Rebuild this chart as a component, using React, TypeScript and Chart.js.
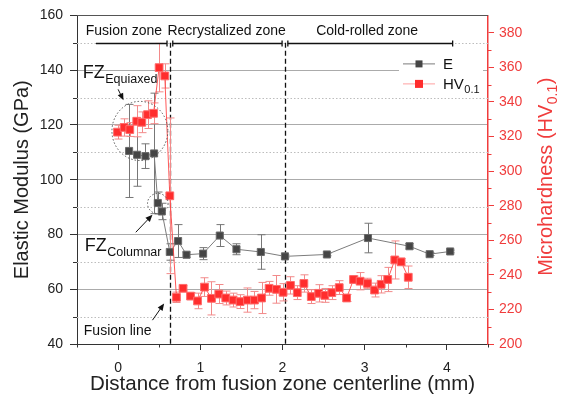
import React, { useEffect, useRef } from 'react';
import { Chart, registerables } from 'chart.js';

Chart.register(...registerables);

const FONT = '"Liberation Sans", Arial, Helvetica, sans-serif';

// ---- data: elastic modulus (GPa) ----
const E_X = [0.134, 0.231, 0.333, 0.438, 0.483, 0.532, 0.629, 0.73, 0.832, 1.034, 1.237, 1.44, 1.736, 2.03, 2.54, 3.04, 3.545, 3.79, 4.04];
const E_Y = [110.5, 109.1, 108.6, 109.6, 91.5, 88.4, 73.6, 77.6, 72.6, 73.0, 79.6, 74.6, 73.6, 72.0, 72.7, 78.7, 75.7, 72.8, 73.8];
const E_ERR = [17, 11.5, 4.5, 22, 4, 3, 3, 6, 1, 2.2, 4, 2, 6.3, 0.5, 0.5, 5.4, 1, 0.5, 0.5];

// ---- data: microhardness (HV0.1) ----
const HV_X = [-0.007, 0.073, 0.142, 0.227, 0.288, 0.358, 0.431, 0.499, 0.568, 0.629,
  0.71, 0.79, 0.881, 0.966, 1.051, 1.136, 1.225, 1.31, 1.399, 1.484, 1.574, 1.659,
  1.745, 1.837, 1.927, 2.007, 2.097, 2.18, 2.26, 2.35, 2.44, 2.515, 2.6, 2.69, 2.78, 2.864, 2.944, 3.034, 3.12, 3.2, 3.28, 3.366, 3.443, 3.53];
const HV_Y = [322.5, 325.2, 324.0, 328.8, 328.2, 332.6, 333.4, 359.8, 355.0, 285.7,
  227.0, 232.2, 227.7, 224.9, 232.9, 226.4, 228.9, 226.6, 225.4, 224.5, 225.4, 225.4,
  226.6, 232.2, 231.6, 229.9, 233.9, 229.7, 235.0, 227.4, 229.3, 228.1, 229.7, 232.6, 226.6, 237.3, 236.3, 235.0, 231.2, 234.5, 237.3, 248.6, 247.5, 238.6];
const HV_ERR = [4, 5, 4, 9, 6, 8, 6, 14, 7, 45,
  3, 1.5, 2, 4.5, 5.4, 9.6, 5.5, 4, 4, 4, 7, 5,
  9, 4, 8, 5, 5, 4, 5, 4, 5, 4, 4, 4, 2, 2, 5, 3, 4, 5, 7, 11, 2, 6.5];

// ---- axes ----
const X_MIN = -0.5, X_MAX = 4.5;
const X_TICKS = [0, 1, 2, 3, 4];
const X_MINOR = [-0.5, 0.5, 1.5, 2.5, 3.5, 4.5];
const E_MIN = 40, E_MAX = 160;
const E_TICKS = [40, 60, 80, 100, 120, 140, 160];
const E_MINOR = [50, 70, 90, 110, 130, 150];
const HV_MIN = 200, HV_MAX = 390;
const HV_TICKS = [200, 220, 240, 260, 280, 300, 320, 340, 360, 380];
const HV_MINOR = [210, 230, 250, 270, 290, 310, 330, 350, 370];

// ---- annotations (data units: x in mm, y in GPa) ----
const ZONE_LABELS = ['Fusion zone', 'Recrystalized zone', 'Cold-rolled zone'];
const ZONE_LABEL_X = [0.07, 1.32, 3.03];
const ZONE_LABEL_Y = 154.2;
const BOUNDARIES = [0.63, 2.03];
const BRACKET_START = -0.27, BRACKET_END = 4.07, BRACKET_Y = 150;
const EQ_CIRCLE = { x: 0.265, y: 117.8, rx: 0.34, ry: 10.8 };
const COL_CIRCLE = { x: 0.483, y: 91.3, rx: 0.125, ry: 3.7 };
const EQ_TEXT = { x: -0.43, y: 137.1 };
const COL_TEXT = { x: -0.405, y: 74.0 };
const FL_TEXT = { x: -0.417, y: 43.3 };
const EQ_ARROW = [0.0, 133.0, 0.066, 129.0];
const COL_ARROW = [0.215, 80.8, 0.418, 87.2];
const FL_ARROW = [0.418, 48.7, 0.56, 54.8];

const RED = '#f03c3c';
const RED_PT = '#ff2d2d';
const RED_LINE = 'rgba(255,60,60,0.85)';
const RED_ERR = '#f28a8a';
const GREY_PT = '#454545';
const GREY_LINE = '#7c7c7c';
const GREY_ERR = '#777777';

function drawErr(ctx: CanvasRenderingContext2D, xs: any, ys: any, X: number[], Y: number[], ERR: number[], color: string) {
  ctx.strokeStyle = color;
  ctx.lineWidth = 1;
  for (let i = 0; i < X.length; i++) {
    const px = Math.round(xs.getPixelForValue(X[i])) + 0.5;
    const t = ys.getPixelForValue(Y[i] + ERR[i]);
    const b = ys.getPixelForValue(Y[i] - ERR[i]);
    ctx.beginPath();
    ctx.moveTo(px, t); ctx.lineTo(px, b);
    ctx.moveTo(px - 4, t); ctx.lineTo(px + 4, t);
    ctx.moveTo(px - 4, b); ctx.lineTo(px + 4, b);
    ctx.stroke();
  }
}

function arrow(ctx: CanvasRenderingContext2D, x0: number, y0: number, x1: number, y1: number) {
  const ang = Math.atan2(y1 - y0, x1 - x0);
  const L = 7, W = 3;
  ctx.beginPath();
  ctx.moveTo(x0, y0);
  ctx.lineTo(x1 - Math.cos(ang) * L * 0.8, y1 - Math.sin(ang) * L * 0.8);
  ctx.stroke();
  ctx.beginPath();
  ctx.moveTo(x1, y1);
  ctx.lineTo(x1 - Math.cos(ang) * L - Math.sin(ang) * W, y1 - Math.sin(ang) * L + Math.cos(ang) * W);
  ctx.lineTo(x1 - Math.cos(ang) * L + Math.sin(ang) * W, y1 - Math.sin(ang) * L - Math.cos(ang) * W);
  ctx.closePath();
  ctx.fill();
}

function subText(ctx: CanvasRenderingContext2D, x: number, y: number, main: string, sub: string, ms: number, ss: number, drop: number) {
  ctx.font = `${ms}px ${FONT}`;
  ctx.fillText(main, x, y);
  const w = ctx.measureText(main).width;
  ctx.font = `${ss}px ${FONT}`;
  ctx.fillText(sub, x + w + 0.5, y + drop);
}

const annotPlugin = {
  id: 'annot',
  beforeDatasetsDraw(chart: any) {
    const { ctx, chartArea: a, scales } = chart;
    const xs = scales.x, ys = scales.y, y1 = scales.y1;
    ctx.save();
    // dotted minor gridlines
    ctx.strokeStyle = '#bdbdbd';
    ctx.lineWidth = 1;
    ctx.setLineDash([1.5, 2]);
    E_MINOR.forEach((v) => {
      const py = Math.round(ys.getPixelForValue(v)) + 0.5;
      ctx.beginPath(); ctx.moveTo(a.left, py); ctx.lineTo(a.right, py); ctx.stroke();
    });
    // zone boundaries
    ctx.strokeStyle = '#111';
    ctx.lineWidth = 1.3;
    ctx.setLineDash([5, 3]);
    BOUNDARIES.forEach((v) => {
      const px = Math.round(xs.getPixelForValue(v)) + 0.5;
      ctx.beginPath(); ctx.moveTo(px, ys.getPixelForValue(BRACKET_Y)); ctx.lineTo(px, a.bottom); ctx.stroke();
    });
    ctx.setLineDash([]);
    drawErr(ctx, xs, ys, E_X, E_Y, E_ERR, GREY_ERR);
    drawErr(ctx, xs, y1, HV_X, HV_Y, HV_ERR, RED_ERR);
    ctx.restore();
  },
  afterDraw(chart: any) {
    const { ctx, chartArea: a, scales } = chart;
    const xs = scales.x, ys = scales.y;
    const X = (v: number) => xs.getPixelForValue(v);
    const Y = (v: number) => ys.getPixelForValue(v);
    ctx.save();
    // top border
    ctx.strokeStyle = '#555';
    ctx.lineWidth = 1;
    ctx.beginPath(); ctx.moveTo(a.left, Math.round(a.top) + 0.5); ctx.lineTo(a.right, Math.round(a.top) + 0.5); ctx.stroke();
    // minor ticks
    ctx.strokeStyle = '#333';
    E_MINOR.forEach((v) => {
      const py = Math.round(Y(v)) + 0.5;
      ctx.beginPath(); ctx.moveTo(a.left - 4, py); ctx.lineTo(a.left, py); ctx.stroke();
    });
    X_MINOR.forEach((v) => {
      const px = Math.round(X(v)) + 0.5;
      ctx.beginPath(); ctx.moveTo(px, a.bottom); ctx.lineTo(px, a.bottom + 3.5); ctx.stroke();
    });
    ctx.strokeStyle = RED;
    HV_MINOR.forEach((v) => {
      const py = Math.round(scales.y1.getPixelForValue(v)) + 0.5;
      ctx.beginPath(); ctx.moveTo(a.right, py); ctx.lineTo(a.right + 3.5, py); ctx.stroke();
    });
    // bracket
    ctx.strokeStyle = '#111';
    ctx.lineWidth = 1.3;
    const by = Math.round(Y(BRACKET_Y)) + 0.5;
    const segs = [
      [BRACKET_START, BOUNDARIES[0] - 0.035, false],
      [BOUNDARIES[0] + 0.035, BOUNDARIES[1] - 0.035, true],
      [BOUNDARIES[1] + 0.035, BRACKET_END, true],
    ];
    segs.forEach(([s, e, capStart]) => {
      const x0 = X(s as number), x1 = X(e as number);
      ctx.beginPath();
      ctx.moveTo(x0, by); ctx.lineTo(x1, by);
      if (capStart) { ctx.moveTo(x0, by - 3); ctx.lineTo(x0, by + 3); }
      ctx.moveTo(x1, by - 3); ctx.lineTo(x1, by + 3);
      ctx.stroke();
    });
    // zone labels
    ctx.fillStyle = '#111';
    ctx.font = `14px ${FONT}`;
    ctx.textAlign = 'center';
    ctx.textBaseline = 'middle';
    ZONE_LABELS.forEach((t, i) => ctx.fillText(t, X(ZONE_LABEL_X[i]), Y(ZONE_LABEL_Y)));
    ctx.textAlign = 'left';
    ctx.textBaseline = 'alphabetic';
    // circles
    ctx.strokeStyle = '#555';
    ctx.lineWidth = 1;
    ctx.setLineDash([1.5, 2]);
    [EQ_CIRCLE, COL_CIRCLE].forEach((c) => {
      const cx = X(c.x), cy = Y(c.y);
      const rx = X(c.x + c.rx) - cx, ry = cy - Y(c.y + c.ry);
      ctx.beginPath(); ctx.ellipse(cx, cy, rx, ry, 0, 0, Math.PI * 2); ctx.stroke();
    });
    ctx.setLineDash([]);
    // arrows
    ctx.strokeStyle = '#111';
    ctx.fillStyle = '#111';
    [EQ_ARROW, COL_ARROW, FL_ARROW].forEach((r) => arrow(ctx, X(r[0]), Y(r[1]), X(r[2]), Y(r[3])));
    // texts
    subText(ctx, X(EQ_TEXT.x), Y(EQ_TEXT.y), 'FZ', 'Equiaxed', 18, 12.5, 5);
    subText(ctx, X(COL_TEXT.x), Y(COL_TEXT.y), 'FZ', 'Columnar', 18, 12.5, 5);
    ctx.font = `14px ${FONT}`;
    ctx.fillText('Fusion line', X(FL_TEXT.x), Y(FL_TEXT.y));
    // legend
    const lx0 = a.right - 85, lx1 = a.right - 53, tx = a.right - 45;
    const r1 = a.top + 48, r2 = a.top + 68;
    ctx.fillStyle = '#fff';
    ctx.fillRect(a.right - 89, a.top + 37, 84, 43);
    ctx.lineWidth = 1;
    ctx.strokeStyle = GREY_LINE;
    ctx.beginPath(); ctx.moveTo(lx0, r1 + 0.5); ctx.lineTo(lx1, r1 + 0.5); ctx.stroke();
    ctx.fillStyle = GREY_PT;
    ctx.fillRect((lx0 + lx1) / 2 - 3.5, r1 - 3, 7, 7);
    ctx.strokeStyle = 'rgba(255,120,120,0.7)';
    ctx.beginPath(); ctx.moveTo(lx0, r2 + 0.5); ctx.lineTo(lx1, r2 + 0.5); ctx.stroke();
    ctx.fillStyle = RED_PT;
    ctx.fillRect((lx0 + lx1) / 2 - 4, r2 - 3.5, 8, 8);
    ctx.fillStyle = '#111';
    ctx.font = `15px ${FONT}`;
    ctx.fillText('E', tx, r1 + 6);
    subText(ctx, tx, r2 + 6, 'HV', '0.1', 15, 11, 4);
    // right axis title
    ctx.translate(a.right + 57, (a.top + a.bottom) / 2 - 3);
    ctx.rotate(-Math.PI / 2);
    ctx.fillStyle = RED;
    const main = 'Microhardness (HV';
    const sub = '0.1';
    const tail = ')';
    ctx.font = `20px ${FONT}`;
    const w1 = ctx.measureText(main).width;
    const w3 = ctx.measureText(tail).width;
    ctx.font = `14px ${FONT}`;
    const w2 = ctx.measureText(sub).width;
    const start = -(w1 + w2 + w3 + 1) / 2;
    ctx.font = `20px ${FONT}`;
    ctx.fillText(main, start, 7);
    ctx.font = `14px ${FONT}`;
    ctx.fillText(sub, start + w1 + 0.5, 12);
    ctx.font = `20px ${FONT}`;
    ctx.fillText(tail, start + w1 + w2 + 1, 7);
    ctx.restore();
  },
};

export default function App() {
  const ref = useRef<HTMLCanvasElement>(null);
  useEffect(() => {
    const canvas = ref.current;
    if (!canvas) return;
    const chart = new Chart(canvas, {
      type: 'scatter',
      data: {
        datasets: [
          {
            label: 'HV0.1',
            data: HV_X.map((x, i) => ({ x, y: HV_Y[i] })),
            yAxisID: 'y1',
            showLine: true,
            borderColor: RED_LINE,
            borderWidth: 1,
            pointStyle: 'rect',
            pointRadius: 5.5,
            pointBackgroundColor: RED_PT,
            pointBorderColor: '#ff6a6a',
            pointBorderWidth: 1,
            order: 0,
          },
          {
            label: 'E',
            data: E_X.map((x, i) => ({ x, y: E_Y[i] })),
            yAxisID: 'y',
            showLine: true,
            borderColor: GREY_LINE,
            borderWidth: 1,
            pointStyle: 'rect',
            pointRadius: 5,
            pointBackgroundColor: GREY_PT,
            pointBorderColor: '#6a6a6a',
            pointBorderWidth: 1,
            order: 1,
          },
        ],
      },
      options: {
        responsive: false,
        animation: false,
        devicePixelRatio: 1,
        layout: { padding: { top: 14, left: 0, right: 0, bottom: 0 } },
        plugins: { legend: { display: false }, tooltip: { enabled: false } },
        scales: {
          x: {
            type: 'linear',
            position: 'bottom',
            min: X_MIN,
            max: X_MAX,
            afterBuildTicks: (s: any) => { s.ticks = X_TICKS.map((v) => ({ value: v })); },
            afterFit: (s: any) => { s.height = 54; },
            grid: { drawOnChartArea: false, tickLength: 6, tickColor: '#333' },
            border: { color: '#333', width: 1 },
            ticks: { font: { family: FONT, size: 14 }, color: '#222', padding: 10, maxRotation: 0 },
            title: { display: true, text: 'Distance from fusion zone centerline (mm)', font: { family: FONT, size: 20.5 }, color: '#222', padding: { top: 0, bottom: 1 } },
          },
          y: {
            type: 'linear',
            position: 'left',
            min: E_MIN,
            max: E_MAX,
            afterBuildTicks: (s: any) => { s.ticks = E_TICKS.map((v) => ({ value: v })); },
            afterFit: (s: any) => { s.width = 77; },
            grid: {
              drawOnChartArea: true,
              tickLength: 7,
              tickColor: '#333',
              color: (c: any) => (c.tick && (c.tick.value === E_MIN || c.tick.value === E_MAX) ? 'rgba(0,0,0,0)' : '#ababab'),
            },
            border: { color: '#333', width: 1 },
            ticks: { font: { family: FONT, size: 14 }, color: '#222', padding: 7 },
            title: { display: true, text: 'Elastic Modulus (GPa)', font: { family: FONT, size: 20 }, color: '#222', padding: { top: 10, bottom: 0 } },
          },
          y1: {
            type: 'linear',
            position: 'right',
            min: HV_MIN,
            max: HV_MAX,
            afterBuildTicks: (s: any) => { s.ticks = HV_TICKS.map((v) => ({ value: v })); },
            afterFit: (s: any) => { s.width = 74; },
            grid: { drawOnChartArea: false, tickLength: 6, tickColor: RED },
            border: { color: RED, width: 1.5 },
            ticks: { font: { family: FONT, size: 14 }, color: RED, padding: 5 },
            title: { display: false },
          },
        },
      },
      plugins: [annotPlugin],
    } as any);
    return () => chart.destroy();
  }, []);
  return (
    <div style={{ position: 'fixed', left: 0, top: 0, width: 562, height: 398, background: '#fff' }}>
      <canvas ref={ref} width={562} height={398} style={{ display: 'block', width: 562, height: 398 }} />
    </div>
  );
}
